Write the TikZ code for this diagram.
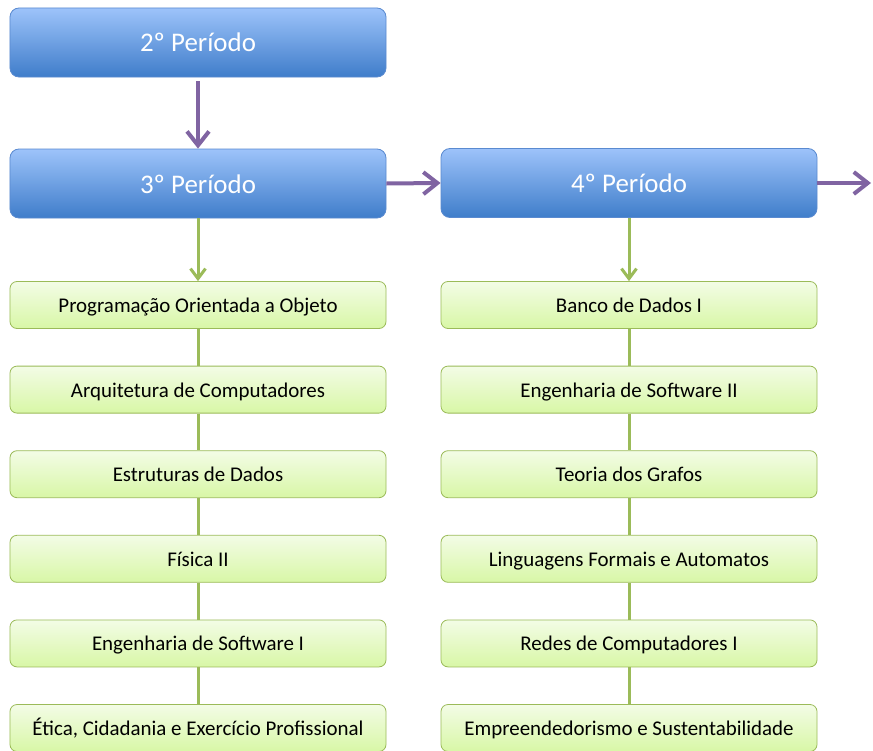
\documentclass[tikz,border=0pt]{standalone}
\usepackage{fontspec}
\setmainfont{Carlito}
\usetikzlibrary{arrows.meta}
\definecolor{bluetop}{HTML}{9DC3FA}
\definecolor{bluebot}{HTML}{3F7DCA}
\definecolor{blueedge}{HTML}{5A8AD0}
\definecolor{greentop}{HTML}{F3FCE6}
\definecolor{greenbot}{HTML}{D8F7A6}
\definecolor{greenedge}{HTML}{9BBB59}
\definecolor{purp}{HTML}{8064A2}
\newcommand{\dnb}[1]{\raisebox{-9.5bp}[0pt][0pt]{#1}}
\newcommand{\dng}[1]{\raisebox{-7.5bp}[0pt][0pt]{#1}}
\begin{document}
\begin{tikzpicture}[x=1bp,y=-1bp,
 period/.style={draw=blueedge, line width=0.8bp, rounded corners=9bp, top color=bluetop, bottom color=bluebot, minimum width=376bp, minimum height=69bp, inner sep=0pt, text=white, font=\fontsize{27}{30}\selectfont},
 course/.style={draw=greenedge, line width=0.8bp, rounded corners=7bp, top color=greentop, bottom color=greenbot, minimum width=376bp, minimum height=47bp, inner sep=0pt, text=black, font=\fontsize{21}{24}\selectfont},
 parrow/.style={draw=purp, line width=4bp, -{Straight Barb[length=14bp,width=22bp]}},
 garrow/.style={draw=greenedge, line width=3bp, -{Straight Barb[length=10bp,width=15bp]}},
 gline/.style={draw=greenedge, line width=3bp}]
\useasboundingbox (0,0) rectangle (873,751);
\fill[white] (0,0) rectangle (873,751);
\node[period] (p2) at (198,42.5) {\dnb{2º Período}};
\node[period] (p3) at (198,183.5) {\dnb{3º Período}};
\node[period] (p4) at (629,183) {\dnb{4º Período}};
\node[course] (a1) at (198,305) {\dng{Programação Orientada a Objeto}};
\node[course] (a2) at (198,389.6) {\dng{Arquitetura de Computadores}};
\node[course] (a3) at (198,474.2) {\dng{Estruturas de Dados}};
\node[course] (a4) at (198,558.8) {\dng{Física II}};
\node[course] (a5) at (198,643.4) {\dng{Engenharia de Software I}};
\node[course] (a6) at (198,728) {\dng{Ética, Cidadania e Exercício Profissional}};
\node[course] (b1) at (629,305) {\dng{Banco de Dados I}};
\node[course] (b2) at (629,389.6) {\dng{Engenharia de Software II}};
\node[course] (b3) at (629,474.2) {\dng{Teoria dos Grafos}};
\node[course] (b4) at (629,558.8) {\dng{Linguagens Formais e Automatos}};
\node[course] (b5) at (629,643.4) {\dng{Redes de Computadores I}};
\node[course] (b6) at (629,728) {\dng{Empreendedorismo e Sustentabilidade}};
\coordinate (out) at (871,183);
\draw[parrow] ([yshift=-4bp]p2.south) -- (p3.north);
\draw[parrow] (p3.east) -- (p4.west);
\draw[parrow] (p4.east) -- (out);
\draw[garrow] (p3.south) -- (a1.north);
\draw[garrow] (p4.south) -- (b1.north);
\foreach \u/\v in {a1/a2,a2/a3,a3/a4,a4/a5,a5/a6,b1/b2,b2/b3,b3/b4,b4/b5,b5/b6}
  \draw[gline] (\u.south) -- (\v.north);
\end{tikzpicture}
\end{document}
